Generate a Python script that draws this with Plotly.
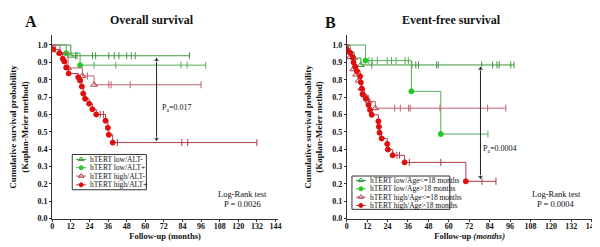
import plotly.graph_objects as go

# ---------------- DATA ----------------
x_ticks = [0, 12, 24, 36, 48, 60, 72, 84, 96, 108, 120, 132, 144]
y_ticks = [0.0, 0.1, 0.2, 0.3, 0.4, 0.5, 0.6, 0.7, 0.8, 0.9, 1.0]

# Panel A: Overall survival
a_names = ["hTERT low/ALT-", "hTERT low/ALT+", "hTERT high/ALT-", "hTERT high/ALT+"]
a_low_neg_t = [12]
a_low_neg_s = [0.938]
a_low_neg_c = [15, 16, 26, 28, 36.5, 40, 43, 48, 51, 53.5, 88.5]
a_low_pos_t = [9, 18]
a_low_pos_s = [0.953, 0.884]
a_low_pos_c = [27, 41, 83, 87, 99]
a_high_neg_t = [5, 10.2, 19.5, 27]
a_high_neg_s = [0.955, 0.868, 0.822, 0.771]
a_high_neg_c = [22.7, 36.5, 38, 50.3, 67.3, 96]
a_high_pos_t = [0.5, 4.6, 6.8, 7.8, 9, 10.6, 16.8, 18, 19.1, 20, 21.2, 23.8, 25.9, 28.4, 34.4, 35.9, 36.5, 39]
a_high_pos_s = [0.975, 0.953, 0.921, 0.905, 0.87, 0.836, 0.814, 0.795, 0.761, 0.72, 0.69, 0.662, 0.63, 0.60,
                0.564, 0.523, 0.483, 0.438]
a_high_pos_c = [2, 31, 33, 42, 83.6, 87.4, 132]
a_pa_text = "P<sub>a</sub>=0.017"
a_logrank_p = "P = 0.0026"
a_arrow_x, a_arrow_top, a_arrow_bot = 67.3, 0.935, 0.438

# Panel B: Event-free survival
b_names = ["hTERT low/Age<=18 months", "hTERT low/Age>18 months",
           "hTERT high/Age<=18 months", "hTERT high/Age>18 months"]
b_low_le_t = [1, 4.4, 8.3]
b_low_le_s = [0.96, 0.925, 0.885]
b_low_le_c = [14.7, 38.3, 40.6, 42.2, 52.8, 53.8, 79.3, 85.7, 88.3, 89.6, 96.4, 98.3]
b_low_gt_t = [11, 38, 55.3]
b_low_gt_s = [0.91, 0.733, 0.487]
b_low_gt_c = [13, 14.9, 18, 23.8, 26.3, 29, 34.3, 36.2, 83]
b_high_le_t = [2, 3.8, 5.5, 7, 8.5, 10.5, 12.9, 16.8]
b_high_le_s = [0.93, 0.86, 0.83, 0.795, 0.75, 0.71, 0.675, 0.636]
b_high_le_c = [13.5, 28.2, 31.5, 36.4, 37.3, 54.8, 82.8, 93.5]
b_high_gt_t = [0.5, 2, 3.5, 4, 5, 6, 7.9, 8.3, 8.9, 9.3, 11.2, 12.8, 13.7, 14.7, 18.6, 18.9, 19.3, 20.5,
               23.8, 24.2, 27, 34, 70]
b_high_gt_s = [0.97, 0.955, 0.93, 0.90, 0.875, 0.85, 0.82, 0.785, 0.748, 0.716, 0.69, 0.654, 0.626, 0.598,
               0.561, 0.529, 0.495, 0.462, 0.43, 0.398, 0.365, 0.324, 0.215]
b_high_gt_c = [29.5, 31, 36.8, 55.3, 79.5, 87.7]
b_pa_text = "P<sub>a</sub>=0.0004"
b_logrank_p = "P = 0.0004"
b_arrow_x, b_arrow_top, b_arrow_bot = 78.6, 0.885, 0.218

# ---------------- LAYOUT GEOMETRY ----------------
SERIF = "Liberation Serif"
W, H = 600, 247
A_X = (42.7, 271.0, 145.5)    # pixel left, pixel right, x-range max
B_X = (340.7, 589.5, 144.5)
Y_PX = (215.0, 28.0)          # pixel bottom, pixel top
Y_MAX = 1.055

styles = [
    dict(line="#3c963c", mcol="#3c963c", sym="triangle-up-open", msize=6),
    dict(line="#5aaa5a", mcol="#22cc22", sym="circle", msize=5),
    dict(line="#c0606e", mcol="#b04050", sym="triangle-up-open", msize=6),
    dict(line="#b03a48", mcol="#e00d0d", sym="circle", msize=5),
]

def px(x):
    return x / W
def py(y):
    return 1 - y / H

fig = go.Figure()

def surv_at(t_ev, s_ev, t):
    s = 1.0
    for te, se in zip(t_ev, s_ev):
        if te <= t:
            s = se
    return s

def add_curve(t_ev, s_ev, c_ev, st, xa, ya):
    end = max(c_ev + t_ev)
    xs = [0] + list(t_ev) + [end]
    ys = [1.0] + list(s_ev) + [s_ev[-1]]
    fig.add_trace(go.Scatter(x=xs, y=ys, mode="lines", line=dict(color=st["line"], width=1, shape="hv"),
                             xaxis=xa, yaxis=ya, showlegend=False, hoverinfo="skip"))
    cy = [surv_at(t_ev, s_ev, c) for c in c_ev]
    fig.add_trace(go.Scatter(x=c_ev, y=cy, mode="markers",
                             marker=dict(symbol="line-ns", size=5, line=dict(width=1, color=st["line"])),
                             xaxis=xa, yaxis=ya, showlegend=False, hoverinfo="skip"))
    fig.add_trace(go.Scatter(x=t_ev, y=s_ev, mode="markers",
                             marker=dict(symbol=st["sym"], size=st["msize"], color=st["mcol"],
                                         line=dict(width=1, color=st["mcol"])),
                             xaxis=xa, yaxis=ya, showlegend=False, hoverinfo="skip"))

def add_double_arrow(x, ytop, ybot, xa, ya):
    fig.add_trace(go.Scatter(x=[x, x], y=[ytop - 0.012, ybot + 0.012], mode="lines",
                             line=dict(color="#222", width=1), xaxis=xa, yaxis=ya,
                             showlegend=False, hoverinfo="skip"))
    fig.add_trace(go.Scatter(x=[x, x], y=[ytop - 0.022, ybot + 0.022], mode="markers",
                             marker=dict(symbol=["triangle-up", "triangle-down"], size=[6, 6], color="#222"),
                             xaxis=xa, yaxis=ya, showlegend=False, hoverinfo="skip"))

add_curve(a_low_neg_t, a_low_neg_s, a_low_neg_c, styles[0], "x", "y")
add_curve(a_low_pos_t, a_low_pos_s, a_low_pos_c, styles[1], "x", "y")
add_curve(a_high_neg_t, a_high_neg_s, a_high_neg_c, styles[2], "x", "y")
add_curve(a_high_pos_t, a_high_pos_s, a_high_pos_c, styles[3], "x", "y")
add_double_arrow(a_arrow_x, a_arrow_top, a_arrow_bot, "x", "y")
add_curve(b_low_le_t, b_low_le_s, b_low_le_c, styles[0], "x2", "y2")
add_curve(b_low_gt_t, b_low_gt_s, b_low_gt_c, styles[1], "x2", "y2")
add_curve(b_high_le_t, b_high_le_s, b_high_le_c, styles[2], "x2", "y2")
add_curve(b_high_gt_t, b_high_gt_s, b_high_gt_c, styles[3], "x2", "y2")
add_double_arrow(b_arrow_x, b_arrow_top, b_arrow_bot, "x2", "y2")

axis_common = dict(showgrid=False, zeroline=False, showline=True, linecolor="#333", linewidth=1,
                   ticks="outside", ticklen=2, tickcolor="#333", tickwidth=1,
                   tickfont=dict(family=SERIF, size=8, color="#111", weight="bold"))

shapes = []
annotations = []

# Legends (drawn manually; sample glyphs placed in each panel's own axes)
def add_legend(names, geom, xa, ya, x0, x1, y0, y1, rows):
    gx0, gx1, gxmax = geom
    def to_dx(p):
        return (p - gx0) / (gx1 - gx0) * gxmax
    def to_dy(p):
        return (Y_PX[0] - p) / (Y_PX[0] - Y_PX[1]) * Y_MAX
    shapes.append(dict(type="rect", xref="paper", yref="paper", x0=px(x0), x1=px(x1), y0=py(y1), y1=py(y0),
                       line=dict(color="#333", width=1), fillcolor="white", layer="below"))
    for name, st, ry in zip(names, styles, rows):
        fig.add_trace(go.Scatter(x=[to_dx(x0 + 4), to_dx(x0 + 14)], y=[to_dy(ry), to_dy(ry)], mode="lines",
                                 line=dict(color=st["line"], width=1), xaxis=xa, yaxis=ya,
                                 showlegend=False, hoverinfo="skip"))
        fig.add_trace(go.Scatter(x=[to_dx(x0 + 9)], y=[to_dy(ry)], mode="markers", xaxis=xa, yaxis=ya,
                                 marker=dict(symbol=st["sym"], size=st["msize"] - 1, color=st["mcol"],
                                             line=dict(width=1, color=st["mcol"])),
                                 showlegend=False, hoverinfo="skip"))
        annotations.append(dict(x=px(x0 + 16), y=py(ry), xref="paper", yref="paper", text=name,
                                showarrow=False, xanchor="left", yanchor="middle",
                                font=dict(family=SERIF, size=7.5, color="#111")))

add_legend(a_names, A_X, "x", "y", 63, 138, 149.5, 185.5, [154.5, 163, 171.5, 180.5])
add_legend(b_names, B_X, "x2", "y2", 346, 445, 171.5, 205.5, [176, 184.5, 193, 201.5])

# Titles and labels
for txt, x, y, size in [("<b>A</b>", 21.7, 14, 16), ("<b>Overall survival</b>", 143.5, 12.5, 12),
                        ("<b>B</b>", 324, 15, 16), ("<b>Event-free survival</b>", 446.7, 12.7, 12)]:
    annotations.append(dict(x=px(x), y=py(y), xref="paper", yref="paper", text=txt, showarrow=False,
                            xanchor="center", yanchor="middle", font=dict(family=SERIF, size=size, color="#111")))

# Log-rank texts
for xr, yr, ptxt in [("x", "y", a_logrank_p), ("x2", "y2", b_logrank_p)]:
    annotations.append(dict(x=123, y=0.14, xref=xr, yref=yr, text="Log-Rank test", showarrow=False,
                            xanchor="center", yanchor="middle", font=dict(family=SERIF, size=8.5, color="#111")))
    annotations.append(dict(x=123, y=0.087, xref=xr, yref=yr, text=ptxt, showarrow=False,
                            xanchor="center", yanchor="middle", font=dict(family=SERIF, size=8.5, color="#111")))

# P_a labels
for xr, yr, ptxt, pxx, pyy in [("x", "y", a_pa_text, 69.5, 0.64), ("x2", "y2", b_pa_text, 79.0, 0.40)]:
    annotations.append(dict(x=pxx, y=pyy, xref=xr, yref=yr, text=ptxt, showarrow=False,
                            xanchor="left", yanchor="middle", font=dict(family=SERIF, size=8, color="#111")))

title_font = dict(family=SERIF, size=8.5, color="#111")
ytitle = dict(text="<b>Cumulative survival probability<br>(Kaplan-Meier method)</b>",
              font=dict(family=SERIF, size=9, color="#111"), standoff=7)

y_dom = [py(Y_PX[0]), py(Y_PX[1])]
fig.update_layout(
    width=W, height=H, margin=dict(l=0, r=0, t=0, b=0),
    paper_bgcolor="white", plot_bgcolor="rgba(0,0,0,0)", showlegend=False,
    xaxis=dict(domain=[px(A_X[0]), px(A_X[1])], range=[0, A_X[2]], tickvals=x_ticks, anchor="y",
               ticklabelstandoff=-2,
               title=dict(text="<b>Follow-up (months)</b>", font=title_font, standoff=2), **axis_common),
    yaxis=dict(domain=y_dom, range=[0, Y_MAX], tickvals=y_ticks, tickformat=".1f", anchor="x",
               title=ytitle, **axis_common),
    xaxis2=dict(domain=[px(B_X[0]), px(B_X[1])], range=[0, B_X[2]], tickvals=x_ticks, anchor="y2",
                ticklabelstandoff=-2,
                title=dict(text="<b>Follow-up <i>(months)</i></b>", font=title_font, standoff=2), **axis_common),
    yaxis2=dict(domain=y_dom, range=[0, Y_MAX], tickvals=y_ticks, tickformat=".1f", anchor="x2",
                title=ytitle, **axis_common),
    shapes=shapes, annotations=annotations,
)

fig.write_html("out.html")
